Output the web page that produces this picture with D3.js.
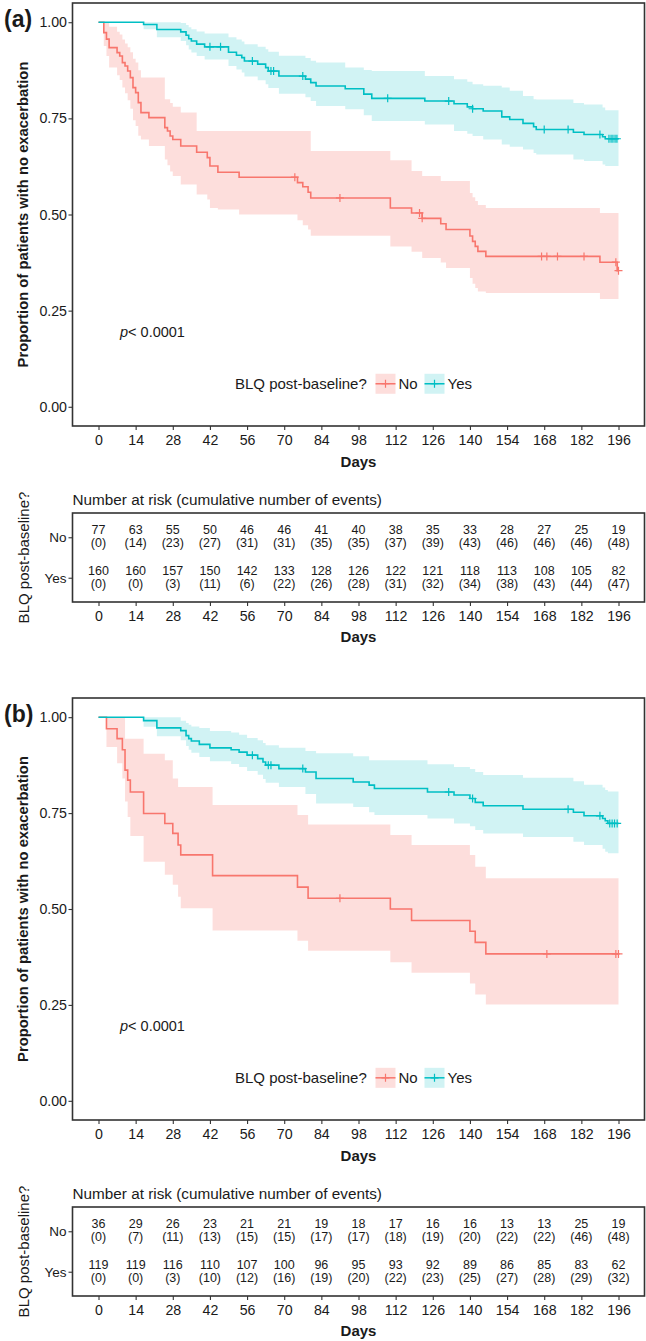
<!DOCTYPE html>
<html>
<head>
<meta charset="utf-8">
<script src="https://cdn.jsdelivr.net/npm/d3@7"></script>
<style>
  body { margin: 0; background: #fff; }
  text { font-family: "Liberation Sans", Arial, sans-serif; fill: #1a1a1a; }
</style>
</head>
<body>
<svg id="chart" width="646" height="1341"></svg>
<script>
// ---- Data ----
var days = [0, 14, 28, 42, 56, 70, 84, 98, 112, 126, 140, 154, 168, 182, 196];
var yTicks = [0, 0.25, 0.5, 0.75, 1];
var groups = ["No", "Yes"];
var colors = {No: "#F8766D", Yes: "#00BFC4"};

// (a) No
var aNoTime  = [0, 2, 3, 4, 7, 8, 9, 10, 11, 12, 13, 14, 15, 16, 19, 25, 26, 27, 28, 31, 37, 41, 42, 45, 53, 75, 77, 79, 80, 110, 118, 122, 129, 131, 140, 141, 142, 143, 146, 189, 195.5, 196];
var aNoSurv  = [1, .973, .956, .934, .921, .912, .895, .886, .873, .856, .830, .817, .791, .765, .752, .726, .717, .704, .695, .678, .662, .648, .626, .610, .597, .583, .572, .558, .543, .517, .504, .490, .476, .461, .444, .430, .417, .404, .391, .376, .354, .354];
var aNoLower = [1, .938, .912, .882, .862, .850, .830, .815, .797, .775, .745, .730, .705, .695, .678, .643, .628, .612, .600, .578, .552, .539, .517, .513, .500, .485, .472, .461, .445, .417, .403, .387, .375, .361, .335, .320, .309, .300, .296, .280, .280, .280];
var aNoUpper = [1, 1, 1, .988, .975, .968, .955, .945, .935, .922, .905, .895, .875, .856, .856, .800, .800, .790, .780, .765, .717, .717, .717, .717, .717, .717, .717, .717, .665, .641, .613, .600, .587, .587, .556, .545, .535, .525, .517, .504, .504, .504];
var aNoCensor = [74, 91, 121, 122, 167, 169, 173, 183, 195, 196];

// (a) Yes
var aYesTime  = [0, 17, 22, 31, 33, 34, 35, 37, 40, 49, 52, 54, 55, 60, 63, 64, 68, 78, 80, 82, 93, 100, 103, 123, 134, 139, 141, 145, 152, 155, 160, 164, 165, 179, 183, 190, 191, 196];
var aYesSurv  = [1, .994, .981, .975, .966, .957, .951, .943, .936, .922, .914, .908, .899, .891, .882, .873, .860, .852, .843, .834, .827, .813, .802, .795, .788, .780, .775, .769, .754, .747, .737, .728, .721, .714, .708, .702, .697, .697];
var aYesLower = [1, .982, .961, .951, .940, .929, .921, .912, .903, .886, .877, .869, .859, .849, .839, .829, .814, .805, .795, .782, .774, .758, .743, .734, .717, .710, .704, .695, .682, .676, .669, .660, .656, .643, .639, .630, .626, .626];
var aYesUpper = [1, 1, 1, .998, .993, .987, .982, .976, .971, .961, .955, .950, .943, .936, .930, .923, .913, .907, .900, .895, .882, .876, .873, .860, .852, .845, .839, .835, .830, .822, .808, .800, .799, .790, .786, .778, .771, .771];
var aYesCensor = [42, 46, 58, 65, 66, 77, 109, 132, 141, 168, 177, 189, 192.4, 193.2, 193.9, 194.7, 195.4];

// (b) No
var bNoTime  = [0, 3, 7, 9, 10, 11, 12, 17, 25, 28, 30, 31, 43, 75, 79, 110, 118, 140, 142, 146, 196];
var bNoSurv  = [1, .970, .944, .915, .862, .836, .805, .749, .723, .697, .667, .641, .587, .557, .528, .500, .470, .442, .413, .383, .383];
var bNoLower = [1, .922, .880, .840, .780, .740, .690, .623, .589, .563, .532, .502, .444, .417, .391, .361, .334, .306, .277, .251, .251];
var bNoUpper = [1, 1, 1, 1, .944, .944, .944, .905, .888, .840, .818, .818, .771, .745, .720, .693, .667, .641, .610, .580, .580];
var bNoCensor = [91, 169, 195, 196];

// (b) Yes
var bYesTime  = [0, 17, 22, 31, 33, 34, 35, 38, 42, 50, 53, 56, 60, 62, 63, 68, 78, 82, 96, 102, 104, 124, 134, 140, 142, 145, 160, 179, 183, 190, 191, 192, 196];
var bYesSurv  = [1, .991, .972, .965, .952, .944, .938, .929, .920, .915, .909, .901, .892, .883, .875, .866, .857, .840, .831, .823, .814, .805, .797, .788, .778, .769, .760, .752, .743, .736, .730, .723, .723];
var bYesLower = [1, .975, .950, .940, .925, .915, .907, .896, .885, .878, .870, .860, .850, .839, .829, .818, .800, .775, .766, .752, .745, .736, .723, .716, .706, .697, .688, .675, .667, .657, .649, .645, .645];
var bYesUpper = [1, 1, 1, .991, .985, .980, .976, .972, .964, .960, .954, .946, .940, .933, .927, .920, .912, .906, .898, .888, .888, .877, .870, .865, .857, .849, .842, .833, .824, .817, .810, .806, .806];
var bYesCensor = [58, 64, 65, 77, 132, 141, 177, 189, 192.7, 193.6, 194.5, 195.5];

// number at risk (cumulative events)
var aNoRisk   = [77, 63, 55, 50, 46, 46, 41, 40, 38, 35, 33, 28, 27, 25, 19];
var aNoEvents = [0, 14, 23, 27, 31, 31, 35, 35, 37, 39, 43, 46, 46, 46, 48];
var aYesRisk   = [160, 160, 157, 150, 142, 133, 128, 126, 122, 121, 118, 113, 108, 105, 82];
var aYesEvents = [0, 0, 3, 11, 6, 22, 26, 28, 31, 32, 34, 38, 43, 44, 47];
var bNoRisk   = [36, 29, 26, 23, 21, 21, 19, 18, 17, 16, 16, 13, 13, 25, 19];
var bNoEvents = [0, 7, 11, 13, 15, 15, 17, 17, 18, 19, 20, 22, 22, 46, 48];
var bYesRisk   = [119, 119, 116, 110, 107, 100, 96, 95, 93, 92, 89, 86, 85, 83, 62];
var bYesEvents = [0, 0, 3, 10, 12, 16, 19, 20, 22, 23, 25, 27, 28, 29, 32];

function series(time, surv, lower, upper) {
    return time.map(function(t, i) { return {t: t, s: surv[i], lo: lower[i], up: upper[i]}; });
}

var panels = [
    {label: "(a)", top: 3, bottom: 426, tableTop: 513, tableBottom: 602,
     curves: {No:  {data: series(aNoTime, aNoSurv, aNoLower, aNoUpper), time: aNoTime, surv: aNoSurv, censor: aNoCensor},
              Yes: {data: series(aYesTime, aYesSurv, aYesLower, aYesUpper), time: aYesTime, surv: aYesSurv, censor: aYesCensor}},
     risk: {No: [aNoRisk, aNoEvents], Yes: [aYesRisk, aYesEvents]}},
    {label: "(b)", top: 698, bottom: 1120, tableTop: 1207, tableBottom: 1296,
     curves: {No:  {data: series(bNoTime, bNoSurv, bNoLower, bNoUpper), time: bNoTime, surv: bNoSurv, censor: bNoCensor},
              Yes: {data: series(bYesTime, bYesSurv, bYesLower, bYesUpper), time: bYesTime, surv: bYesSurv, censor: bYesCensor}},
     risk: {No: [bNoRisk, bNoEvents], Yes: [bYesRisk, bYesEvents]}}
];

var svg = d3.select("svg#chart");
var left = 72.5, right = 644.5;
var x = d3.scaleLinear().domain([-9.8, 205.8]).range([left, right]);
var midX = (left + right) / 2;
var bandOpacity = {No: 0.24, Yes: 0.18};
var plus = "M-4,0H4M0,-4V4";

function styleAxis(g, size) {
    g.select(".domain").remove();
    g.selectAll(".tick line").attr("stroke", "#333").attr("stroke-width", 1.1);
    g.selectAll(".tick text").style("font-size", size + "px").style("font-family", "'Liberation Sans', Arial, sans-serif").attr("fill", "#1a1a1a");
}

panels.forEach(function(p) {
    var y = d3.scaleLinear().domain([-0.05, 1.05]).range([p.bottom, p.top]);

    // Bands
    groups.forEach(function(gname) {
        svg.append("path").datum(p.curves[gname].data)
            .attr("fill", colors[gname]).attr("fill-opacity", bandOpacity[gname])
            .attr("d", d3.area().curve(d3.curveStepAfter)
                .x(function(d) { return x(d.t); })
                .y0(function(d) { return y(d.lo); })
                .y1(function(d) { return y(d.up); }));
    });
    // Lines + censor marks
    groups.forEach(function(gname) {
        var c = p.curves[gname];
        svg.append("path").datum(c.data)
            .attr("fill", "none").attr("stroke", colors[gname]).attr("stroke-width", 1.6)
            .attr("d", d3.line().curve(d3.curveStepAfter)
                .x(function(d) { return x(d.t); })
                .y(function(d) { return y(d.s); }));
        svg.append("g").selectAll("path").data(c.censor).enter().append("path")
            .attr("d", plus).attr("stroke", colors[gname]).attr("stroke-width", 1.2).attr("fill", "none")
            .attr("transform", function(t) {
                var s = c.surv[d3.bisectRight(c.time, t) - 1];
                return "translate(" + x(t) + "," + y(s) + ")";
            });
    });

    // Box
    svg.append("rect").attr("x", left).attr("y", p.top).attr("width", right - left).attr("height", p.bottom - p.top)
        .attr("fill", "none").attr("stroke", "#333").attr("stroke-width", 1.6);

    // Axes
    svg.append("g").attr("transform", "translate(0," + p.bottom + ")")
        .call(d3.axisBottom(x).tickValues(days).tickSize(4).tickPadding(4.5))
        .call(function(g) { styleAxis(g, 14.2); });
    svg.append("g").attr("transform", "translate(" + left + ",0)")
        .call(d3.axisLeft(y).tickValues(yTicks).tickFormat(d3.format(".2f")).tickSize(4).tickPadding(1.5))
        .call(function(g) { styleAxis(g, 14.2); });

    svg.append("text").attr("x", midX).attr("y", p.bottom + 41).attr("text-anchor", "middle")
        .style("font-size", "15px").style("font-weight", "bold").text("Days");
    svg.append("text").attr("transform", "translate(28," + ((p.top + p.bottom) / 2) + ") rotate(-90)")
        .attr("text-anchor", "middle").style("font-size", "14.8px").style("font-weight", "bold")
        .text("Proportion of patients with no exacerbation");
    svg.append("text").attr("x", 4).attr("y", p.top + 24).style("font-size", "23px").style("font-weight", "bold").text(p.label);

    // p-value
    var pv = svg.append("text").attr("x", 120).attr("y", y(0) - 70).style("font-size", "14.5px");
    pv.append("tspan").style("font-style", "italic").text("p");
    pv.append("tspan").text("< 0.0001");

    // Legend
    var ly = y(0) - 23;
    svg.append("text").attr("x", 235).attr("y", ly + 5.3).style("font-size", "15px").text("BLQ post-baseline?");
    var keyX = {No: 375.5, Yes: 424.5};
    groups.forEach(function(gname) {
        var k = svg.append("g").attr("transform", "translate(" + keyX[gname] + "," + (ly - 10) + ")");
        k.append("rect").attr("width", 20).attr("height", 20).attr("fill", colors[gname]).attr("fill-opacity", bandOpacity[gname]);
        k.append("line").attr("x1", 0).attr("x2", 20).attr("y1", 10).attr("y2", 10).attr("stroke", colors[gname]).attr("stroke-width", 1.5);
        k.append("path").attr("d", plus).attr("transform", "translate(10,10)").attr("stroke", colors[gname]).attr("stroke-width", 1.2);
        svg.append("text").attr("x", keyX[gname] + 23).attr("y", ly + 5.3).style("font-size", "15px").text(gname);
    });

    // Risk table
    var ry = d3.scalePoint().domain(groups).range([p.tableTop, p.tableBottom]).padding(0.6);
    svg.append("text").attr("x", left).attr("y", p.tableTop - 8).style("font-size", "15.3px")
        .text("Number at risk (cumulative number of events)");
    svg.append("rect").attr("x", left).attr("y", p.tableTop).attr("width", right - left).attr("height", p.tableBottom - p.tableTop)
        .attr("fill", "none").attr("stroke", "#333").attr("stroke-width", 1.6);
    groups.forEach(function(gname) {
        var r = p.risk[gname];
        var rows = svg.append("g").selectAll("g").data(days).enter().append("g");
        rows.append("text").attr("x", function(d) { return x(d); }).attr("y", ry(gname) - 3)
            .attr("text-anchor", "middle").style("font-size", "12.5px")
            .text(function(d, i) { return r[0][i]; });
        rows.append("text").attr("x", function(d) { return x(d); }).attr("y", ry(gname) + 10)
            .attr("text-anchor", "middle").style("font-size", "12.5px")
            .text(function(d, i) { return "(" + r[1][i] + ")"; });
    });
    svg.append("g").attr("transform", "translate(0," + p.tableBottom + ")")
        .call(d3.axisBottom(x).tickValues(days).tickSize(4).tickPadding(4.5))
        .call(function(g) { styleAxis(g, 14.2); });
    svg.append("g").attr("transform", "translate(" + left + ",0)")
        .call(d3.axisLeft(ry).tickSize(4).tickPadding(2))
        .call(function(g) { styleAxis(g, 13.5); });
    svg.append("text").attr("x", midX).attr("y", p.tableBottom + 40).attr("text-anchor", "middle")
        .style("font-size", "15px").style("font-weight", "bold").text("Days");
    svg.append("text").attr("transform", "translate(28.5," + ((p.tableTop + p.tableBottom) / 2) + ") rotate(-90)")
        .attr("text-anchor", "middle").style("font-size", "15px").text("BLQ post-baseline?");
});
</script>
</body>
</html>
